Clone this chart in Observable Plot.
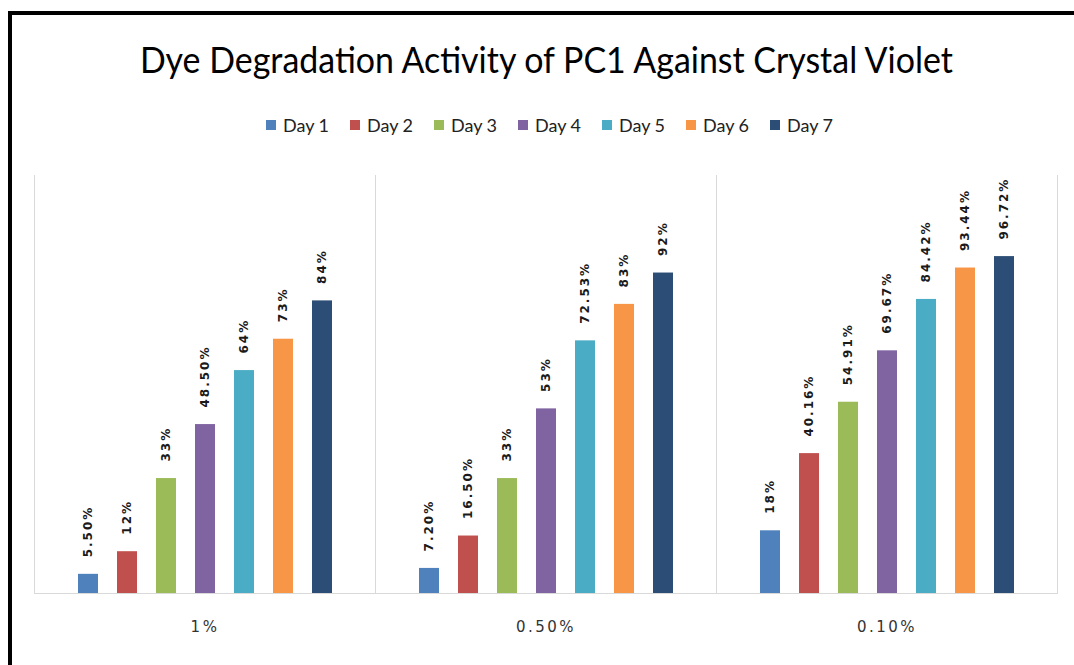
<!DOCTYPE html>
<html><head><meta charset="utf-8">
<script src="https://cdn.jsdelivr.net/npm/d3@7"></script>
<script src="https://cdn.jsdelivr.net/npm/@observablehq/plot@0.6"></script>
<style>
html,body{margin:0;padding:0;background:#fff;overflow:hidden;width:1074px;height:665px;}
#border{position:absolute;left:8px;top:11px;width:1200px;height:800px;border:4px solid #000;box-sizing:border-box;}
#chart{position:absolute;left:0;top:0;}
#title{position:absolute;left:0;top:40px;width:1093px;text-align:center;font-family:Lato,"Noto Sans",sans-serif;font-size:37px;line-height:37px;color:#000;white-space:nowrap;}
#title span{display:inline-block;transform-origin:50% 50%;}
#legend{position:absolute;top:116px;left:0;width:1099px;display:flex;justify-content:center;font-family:Lato,"Noto Sans",sans-serif;font-size:18px;line-height:18px;color:#222;}
.item{display:flex;align-items:center;width:84px;}
.item:last-child{width:auto;}
.sw{width:10px;height:10px;margin-right:7px;flex:none;}
</style></head><body>
<div id="border"></div>
<div id="chart"></div>
<div id="title"><span>Dye Degradation Activity of PC1 Against Crystal Violet</span></div>
<div id="legend"></div>
<script>
// Categories (dye concentration) and series (days)
const concentrations = ["1%", "0.50%", "0.10%"];
const days = ["Day 1", "Day 2", "Day 3", "Day 4", "Day 5", "Day 6", "Day 7"];
const colors = ["#4f81bd", "#c0504d", "#9bbb59", "#8064a2", "#4bacc6", "#f79646", "#2c4d75"];

// Degradation (%) per day, in the order of concentrations
const day1 = [5.5, 7.2, 18];
const day2 = [12, 16.5, 40.16];
const day3 = [33, 33, 54.91];
const day4 = [48.5, 53, 69.67];
const day5 = [64, 72.53, 84.42];
const day6 = [73, 83, 93.44];
const day7 = [84, 92, 96.72];
const series = [day1, day2, day3, day4, day5, day6, day7];

const fmt = v => (Number.isInteger(v) ? v : v.toFixed(2)) + "%";

const data = [];
concentrations.forEach((c, i) => {
  days.forEach((d, j) => {
    data.push({conc: c, day: d, value: series[j][i]});
  });
});

// Legend
const legend = document.getElementById("legend");
days.forEach((d, j) => {
  const it = document.createElement("div");
  it.className = "item";
  const sw = document.createElement("span");
  sw.className = "sw";
  sw.style.background = colors[j];
  const tx = document.createElement("span");
  tx.textContent = d;
  it.appendChild(sw); it.appendChild(tx);
  legend.appendChild(it);
});

// Fit title width
const tspan = document.querySelector("#title span");
const w = tspan.getBoundingClientRect().width;
tspan.style.transform = `scaleX(${813 / w})`;

const chart = Plot.plot({
  width: 1074,
  height: 665,
  marginTop: 175,
  marginBottom: 72,
  marginLeft: 34,
  marginRight: 17,
  style: {fontFamily: "DejaVu Sans", fontSize: "15px", color: "#333", background: "transparent", overflow: "visible"},
  fx: {domain: concentrations, padding: 0, label: null, axis: "bottom", tickSize: 0, tickPadding: 28},
  x: {domain: days, paddingInner: 0.49, paddingOuter: 1.1, axis: null},
  y: {domain: [0, 120], axis: null},
  color: {domain: days, range: colors},
  marks: [
    Plot.frame({anchor: "left", stroke: "#d9d9d9"}),
    Plot.frame({anchor: "right", stroke: "#d9d9d9"}),
    Plot.ruleY([0], {stroke: "#d9d9d9"}),
    Plot.barY(data, {fx: "conc", x: "day", y: "value", fill: "day"}),
    Plot.text(data, {fx: "conc", x: "day", y: "value", text: d => fmt(d.value), rotate: -90, textAnchor: "start", dy: -17, fontSize: 12, fontWeight: "bold", fill: "#1a1a1a"})
  ]
});
document.getElementById("chart").appendChild(chart);
d3.select(chart).selectAll("text").style("letter-spacing", "2px");
d3.select(chart).selectAll("[aria-label='fx-axis tick label'] text, [aria-label='fx-axis'] text").style("letter-spacing", "2.5px");
</script>
</body></html>
